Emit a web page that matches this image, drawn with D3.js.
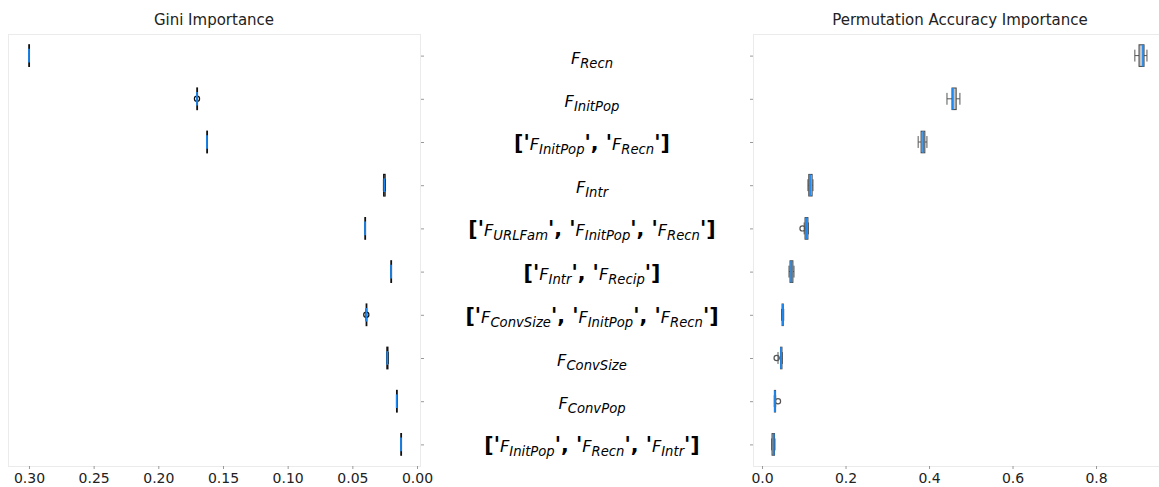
<!DOCTYPE html>
<html>
<head>
<meta charset="utf-8">
<script src="https://cdn.jsdelivr.net/npm/d3@7/dist/d3.min.js"></script>
<style>
  html, body { margin: 0; padding: 0; background: #fff; }
  svg { display: block; font-family: "DejaVu Sans", sans-serif; }
</style>
</head>
<body>
<svg id="chart" width="1159" height="487"></svg>
<script>
// Feature sets, top to bottom. A string is a single feature, an array is a feature combination.
const features = [
  "Recn",
  "InitPop",
  ["InitPop", "Recn"],
  "Intr",
  ["URLFam", "InitPop", "Recn"],
  ["Intr", "Recip"],
  ["ConvSize", "InitPop", "Recn"],
  "ConvSize",
  "ConvPop",
  ["InitPop", "Recn", "Intr"]
];

// Gini importance box statistics per feature set
const giniLow    = [0.2999, 0.1699, 0.1623, 0.0245, 0.0401, 0.0200, 0.0390, 0.0222, 0.0156, 0.0123];
const giniQ1     = [0.2999, 0.1700, 0.1623, 0.0247, 0.0401, 0.0200, 0.0391, 0.0225, 0.0156, 0.0123];
const giniMedian = [0.3000, 0.1701, 0.1624, 0.0253, 0.0402, 0.0201, 0.0392, 0.0230, 0.0157, 0.0124];
const giniQ3     = [0.3001, 0.1702, 0.1625, 0.0258, 0.0403, 0.0202, 0.0393, 0.0233, 0.0158, 0.0125];
const giniHigh   = [0.3001, 0.1703, 0.1625, 0.0260, 0.0403, 0.0202, 0.0394, 0.0234, 0.0158, 0.0125];
const giniFliers = [[], [0.1701], [], [], [], [], [0.0392], [], [], []];

// Permutation accuracy importance box statistics per feature set
const permLow    = [0.893, 0.443, 0.374, 0.110, 0.101, 0.0646, 0.047, 0.0383, 0.0294, 0.0232];
const permQ1     = [0.903, 0.455, 0.381, 0.112, 0.103, 0.067,  0.048, 0.0443, 0.0296, 0.0240];
const permMedian = [0.9126, 0.457, 0.386, 0.115, 0.106, 0.070, 0.050, 0.0455, 0.0310, 0.0280];
const permQ3     = [0.915, 0.465, 0.390, 0.120, 0.110, 0.074,  0.051, 0.0478, 0.0325, 0.0300];
const permHigh   = [0.922, 0.474, 0.395, 0.122, 0.111, 0.0766, 0.052, 0.0486, 0.0327, 0.0310];
const permFliers = [[], [], [], [], [0.097], [], [], [0.035], [0.0383], []];

const giniTicks = [0.30, 0.25, 0.20, 0.15, 0.10, 0.05, 0.00];
const permTicks = [0.0, 0.2, 0.4, 0.6, 0.8];

const svg = d3.select("#chart");

const plotTop = 34, plotBottom = 466;
const rows = d3.range(features.length);
const y = d3.scalePoint().domain(rows).range([plotTop, plotBottom]).padding(0.5);
const boxH = y.step() * 0.5;
const capH = boxH * 0.55;

const xGini = d3.scaleLinear().domain([0.3162, -0.0023]).range([8, 420]);
const xPerm = d3.scaleLinear().domain([-0.0216, 0.97]).range([753, 1167]);

function panel(x, stats, opt) {
  const [x0, x1] = x.range();
  const g = svg.append("g");

  // frame
  g.append("rect")
    .attr("x", x0 + 0.5).attr("y", plotTop + 0.5)
    .attr("width", x1 - x0).attr("height", plotBottom - plotTop)
    .attr("fill", "none").attr("stroke", "#ebebeb").attr("stroke-width", 1);

  // title
  g.append("text")
    .attr("x", (x0 + x1) / 2).attr("y", 25)
    .attr("text-anchor", "middle")
    .attr("font-size", 15).attr("fill", "#222")
    .text(opt.title);

  // x axis
  const ax = g.append("g")
    .attr("transform", `translate(0,${plotBottom})`)
    .call(d3.axisBottom(x).tickValues(opt.ticks).tickFormat(opt.fmt).tickSize(3).tickPadding(4));
  ax.select(".domain").remove();
  ax.selectAll(".tick line").attr("stroke", "#999");
  ax.selectAll(".tick text")
    .attr("font-family", "DejaVu Sans, sans-serif")
    .attr("font-size", 14).attr("fill", "#222");

  // y ticks (unlabelled)
  const yAxis = opt.yRight ? d3.axisRight(y).tickSize(3) : d3.axisLeft(y).tickSize(3);
  const ay = g.append("g")
    .attr("transform", `translate(${opt.yRight ? x1 + 1 : x0},0)`)
    .call(yAxis);
  ay.select(".domain").remove();
  ay.selectAll(".tick text").remove();
  ay.selectAll(".tick line").attr("stroke", "#999");

  // boxes
  const b = g.selectAll("g.box").data(rows).join("g").attr("class", "box");

  // whiskers
  b.append("line")
    .attr("x1", i => x(stats.low[i])).attr("x2", i => x(stats.q1[i]))
    .attr("y1", i => y(i)).attr("y2", i => y(i))
    .attr("stroke", opt.whisker).attr("stroke-width", 1);
  b.append("line")
    .attr("x1", i => x(stats.q3[i])).attr("x2", i => x(stats.high[i]))
    .attr("y1", i => y(i)).attr("y2", i => y(i))
    .attr("stroke", opt.whisker).attr("stroke-width", 1);
  // caps
  b.append("line")
    .attr("x1", i => x(stats.low[i])).attr("x2", i => x(stats.low[i]))
    .attr("y1", i => y(i) - capH / 2).attr("y2", i => y(i) + capH / 2)
    .attr("stroke", opt.whisker).attr("stroke-width", 1);
  b.append("line")
    .attr("x1", i => x(stats.high[i])).attr("x2", i => x(stats.high[i]))
    .attr("y1", i => y(i) - capH / 2).attr("y2", i => y(i) + capH / 2)
    .attr("stroke", opt.whisker).attr("stroke-width", 1);

  // box body
  b.append("rect")
    .attr("x", i => Math.min(x(stats.q1[i]), x(stats.q3[i])))
    .attr("width", i => Math.max(0.6, Math.abs(x(stats.q3[i]) - x(stats.q1[i]))))
    .attr("y", i => y(i) - boxH / 2)
    .attr("height", boxH)
    .attr("fill", opt.boxFill)
    .attr("stroke", opt.boxEdge).attr("stroke-width", opt.edgeWidth);

  // fliers
  b.selectAll("circle")
    .data(i => stats.fliers[i].map(v => ({ v, i })))
    .join("circle")
    .attr("cx", d => x(d.v)).attr("cy", d => y(d.i))
    .attr("r", 2.6)
    .attr("fill", "none").attr("stroke", opt.flier).attr("stroke-width", 1.2);

  // median
  b.append("line")
    .attr("x1", i => x(stats.median[i])).attr("x2", i => x(stats.median[i]))
    .attr("y1", i => y(i) - boxH / 2 + opt.medInset)
    .attr("y2", i => y(i) + boxH / 2 - opt.medInset)
    .attr("stroke", "#1e88f0").attr("stroke-width", 1.8);
}

panel(xGini, {
  low: giniLow, q1: giniQ1, median: giniMedian, q3: giniQ3, high: giniHigh, fliers: giniFliers
}, {
  title: "Gini Importance", ticks: giniTicks, fmt: d3.format(".2f"), yRight: true,
  whisker: "#222", boxFill: "#999", boxEdge: "#111", edgeWidth: 1.2, flier: "#111", medInset: 4
});

panel(xPerm, {
  low: permLow, q1: permQ1, median: permMedian, q3: permQ3, high: permHigh, fliers: permFliers
}, {
  title: "Permutation Accuracy Importance", ticks: permTicks, fmt: d3.format(".1f"), yRight: false,
  whisker: "#555", boxFill: "#c4c4c4", boxEdge: "#444", edgeWidth: 1, flier: "#555", medInset: 0
});

// Feature-set labels between the panels
const labels = svg.append("g");
const cx = 592;
const fSize = 16.2, subSize = 13.2, subDrop = 4, symSize = 20.5;
rows.forEach(i => {
  const t = labels.append("text")
    .attr("x", cx).attr("y", y(i) + 8)
    .attr("text-anchor", "middle").attr("fill", "#000");
  let pendingDy = 0;
  const sym = (s) => {
    t.append("tspan").attr("font-weight", "bold").attr("font-size", symSize)
      .attr("dy", pendingDy || null).text(s);
    pendingDy = 0;
  };
  const feat = (name) => {
    t.append("tspan").attr("font-style", "italic").attr("font-size", fSize)
      .attr("dy", pendingDy || null).text("F");
    t.append("tspan").attr("font-style", "italic").attr("font-size", subSize)
      .attr("dy", subDrop).text(name);
    pendingDy = -subDrop;
  };
  const f = features[i];
  if (Array.isArray(f)) {
    sym("[");
    f.forEach((name, k) => {
      sym("'");
      feat(name);
      sym(k < f.length - 1 ? "', " : "'");
    });
    sym("]");
  } else {
    feat(f);
  }
});
</script>
</body>
</html>
